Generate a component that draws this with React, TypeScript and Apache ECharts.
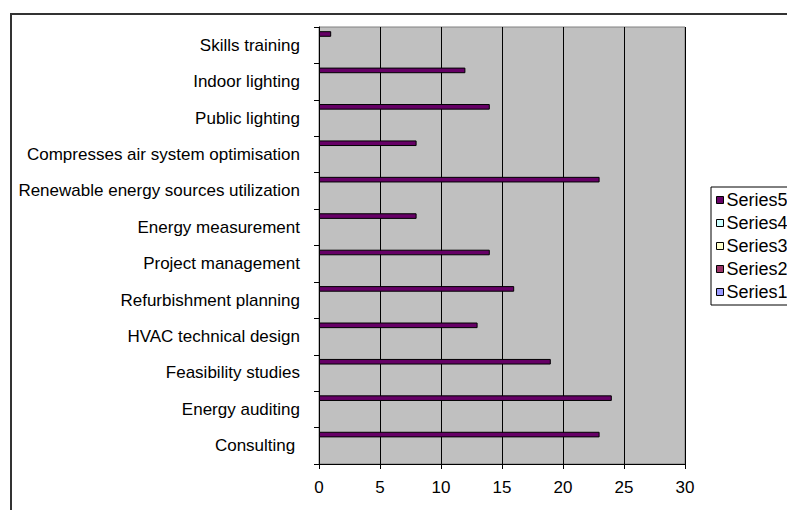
import React, { useEffect, useRef } from "react";
import * as echarts from "echarts";

const categories = [
  "Consulting ",
  "Energy auditing",
  "Feasibility studies",
  "HVAC technical design",
  "Refurbishment planning",
  "Project management",
  "Energy measurement",
  "Renewable energy sources utilization",
  "Compresses air system optimisation",
  "Public lighting",
  "Indoor lighting",
  "Skills training",
];

const series5Values = [23, 24, 19, 13, 16, 14, 8, 23, 8, 14, 12, 1];

const seriesNames = ["Series5", "Series4", "Series3", "Series2", "Series1"];
const seriesColors = ["#660066", "#CCFFFF", "#FFFFCC", "#993366", "#9999FF"];

const xTicks = { min: 0, max: 30, interval: 5 };

const FONT = "'Liberation Sans', Arial, sans-serif";

export default function App() {
  const ref = useRef<HTMLDivElement>(null);
  useEffect(() => {
    if (!ref.current) return;
    const chart = echarts.init(ref.current, undefined, { renderer: "svg" });
    const series = seriesNames.map((name, i) => ({
      name,
      type: "bar",
      data: name === "Series5" ? series5Values : [],
      barGap: "0%",
      barCategoryGap: "23%",
      itemStyle: { color: seriesColors[i], borderColor: "#000", borderWidth: 1 },
    }));
    chart.setOption({
      animation: false,
      backgroundColor: "#ffffff",
      textStyle: { fontFamily: FONT },
      graphic: [
        {
          type: "rect",
          shape: { x: 11, y: 14, width: 800, height: 520 },
          style: { fill: "none", stroke: "#333", lineWidth: 2 },
          silent: true,
        },
      ],
      grid: {
        left: 319,
        top: 27,
        width: 366,
        height: 437,
        show: true,
        backgroundColor: "#C0C0C0",
        borderColor: "#808080",
        borderWidth: 1,
        containLabel: false,
      },
      legend: {
        orient: "vertical",
        left: 711,
        top: 187,
        data: seriesNames,
        icon: "rect",
        itemWidth: 7,
        itemHeight: 7,
        itemGap: 5,
        padding: [4, 40, 4, 5],
        borderColor: "#000",
        borderWidth: 1,
        backgroundColor: "#fff",
        textStyle: { fontSize: 18, color: "#000", fontFamily: FONT, padding: [0, 0, 0, -2] },
        itemStyle: { borderColor: "#000", borderWidth: 1 },
      },
      xAxis: {
        type: "value",
        min: xTicks.min,
        max: xTicks.max,
        interval: xTicks.interval,
        axisLine: { show: true, lineStyle: { color: "#000", width: 1 } },
        axisTick: { show: true, length: 5, lineStyle: { color: "#000" } },
        splitLine: { show: true, lineStyle: { color: "#000", width: 1 } },
        axisLabel: { fontSize: 17, color: "#000", margin: 15, fontFamily: FONT },
      },
      yAxis: {
        type: "category",
        data: categories,
        axisLine: { show: true, lineStyle: { color: "#000", width: 1 } },
        axisTick: { show: true, length: 5, alignWithLabel: false, lineStyle: { color: "#000" } },
        axisLabel: { fontSize: 17, color: "#000", margin: 19, fontFamily: FONT },
        splitLine: { show: false },
      },
      series,
    });
    return () => chart.dispose();
  }, []);
  return (
    <div
      ref={ref}
      style={{ position: "absolute", left: 0, top: 0, width: 787, height: 510 }}
    />
  );
}
